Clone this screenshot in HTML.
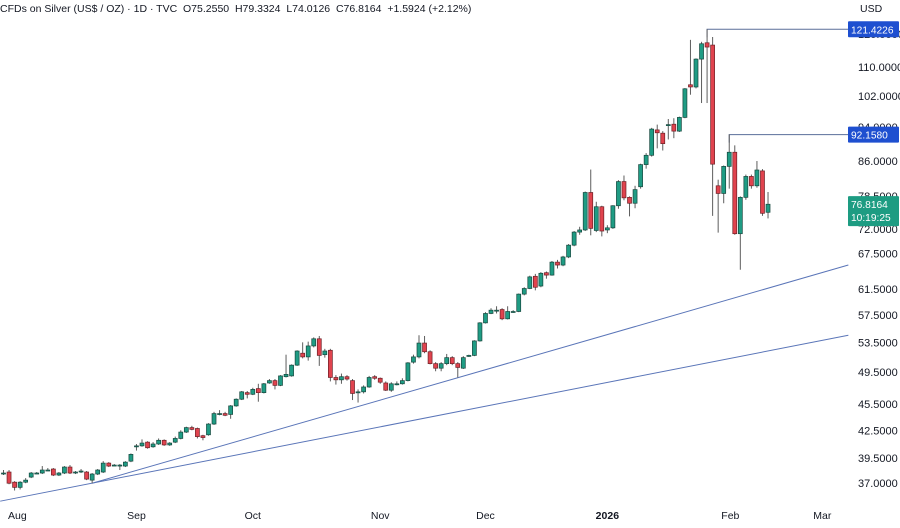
<!DOCTYPE html>
<html><head><meta charset="utf-8"><style>
html,body{margin:0;padding:0;background:#fff;}
body{width:900px;height:523px;overflow:hidden;font-family:"Liberation Sans",sans-serif;}
svg text{font-family:"Liberation Sans",sans-serif;}
</style></head><body>
<svg id="chart" width="900" height="523" viewBox="0 0 900 523" xmlns="http://www.w3.org/2000/svg">
<rect x="0" y="0" width="900" height="523" fill="#fff"/>
<text x="0" y="12" font-size="10.5" fill="#131722">CFDs on Silver (US$ / OZ) · 1D · TVC&#160;&#160;O75.2550&#160;&#160;H79.3324&#160;&#160;L74.0126&#160;&#160;C76.8164&#160;&#160;+1.5924 (+2.12%)</text>
<g id="lines"></g>
<g id="candles"></g>
<g id="yaxis"></g>
<g id="xaxis"></g>
<g id="tags"></g>
</svg>
<script>
const opens=[38.0,38.1,37.1,36.6,37.1,37.6,38.0,38.0,38.3,38.4,37.8,38.0,38.6,38.1,38.2,38.1,37.3,37.9,38.1,39.0,38.8,38.8,38.7,39.2,40.8,40.8,41.2,40.7,41.0,41.4,40.9,41.2,41.6,42.3,42.8,42.7,41.9,42.0,43.2,44.4,44.4,44.3,45.3,46.1,46.9,46.7,47.4,46.9,48.1,48.4,47.8,48.9,49.0,50.4,52.0,51.5,53.0,54.0,51.8,52.4,48.8,48.5,48.9,48.4,46.9,47.0,47.6,48.9,48.7,48.1,47.2,48.0,48.0,48.4,50.8,51.5,53.4,52.2,50.6,50.0,50.6,51.4,50.6,50.0,51.6,51.7,53.7,56.3,57.7,58.2,58.3,56.9,58.0,58.0,60.7,61.6,63.6,62.0,64.2,63.8,66.0,65.5,66.9,69.0,71.4,71.8,79.2,71.7,76.3,71.8,72.2,76.5,81.5,78.2,77.0,80.4,85.2,87.3,93.3,92.5,94.4,94.7,93.0,96.4,105.0,104.4,112.3,117.2,116.5,80.6,79.0,84.8,88.0,71.1,78.2,82.6,80.6,83.8,75.2];
const highs=[38.3,38.3,37.2,37.2,37.5,38.1,38.1,38.7,38.5,38.5,38.1,38.7,38.8,38.2,38.4,38.2,38.0,38.4,39.2,39.1,38.9,38.9,39.2,40.0,41.0,41.5,41.3,41.2,41.6,41.5,41.2,41.8,42.5,42.9,43.0,42.8,42.0,43.3,44.6,44.8,44.6,45.4,46.2,47.1,47.1,47.5,48.0,48.1,48.6,48.6,49.1,51.8,50.5,52.4,53.5,53.6,54.2,54.4,52.6,52.6,49.1,49.3,49.1,48.6,47.3,47.8,49.0,49.1,48.8,48.3,48.2,48.3,48.7,50.8,51.8,54.5,54.4,52.4,50.8,50.8,51.9,51.6,50.8,51.6,51.8,53.8,56.4,57.9,58.5,58.8,58.5,58.8,58.2,60.8,61.8,63.7,64.0,64.3,64.4,66.2,66.4,67.1,69.2,71.6,72.4,79.4,84.1,77.3,76.5,72.7,76.6,81.8,82.8,78.4,80.6,85.4,87.8,93.8,94.6,93.0,96.0,96.2,96.6,104.1,118.1,112.5,117.5,121.4,119.0,81.9,85.0,92.2,89.6,78.4,83.0,83.0,86.0,84.2,79.3];
const lows=[37.8,36.9,36.3,36.4,37.0,37.5,37.9,37.9,38.2,37.7,37.7,37.9,37.9,37.9,38.0,37.3,37.0,37.8,38.0,38.6,38.7,38.3,38.6,39.1,40.3,40.7,40.5,40.6,40.9,40.8,40.8,41.1,41.5,42.2,42.5,41.6,41.4,41.9,43.1,44.2,44.1,43.8,45.2,46.0,46.2,46.6,45.8,46.8,48.0,47.3,47.7,48.8,48.9,50.3,51.3,51.0,52.8,50.3,51.4,48.3,47.9,48.0,48.4,46.0,45.7,46.8,47.5,48.5,48.0,47.1,47.0,47.8,47.9,48.3,50.6,51.3,52.0,50.5,49.6,49.6,50.4,50.4,48.8,49.9,51.5,51.6,53.6,56.2,57.6,57.7,56.7,56.8,57.8,57.9,60.5,61.5,61.3,61.8,63.2,63.7,64.9,65.3,66.7,68.8,70.9,71.6,70.8,71.4,70.6,71.2,72.0,75.9,77.6,74.4,76.0,80.0,84.3,87.0,88.9,88.4,91.0,91.3,92.8,96.2,102.3,104.0,100.1,100.1,74.5,71.3,77.0,80.0,70.9,64.7,77.7,80.0,80.2,74.5,74.0];
const closes=[38.0,37.0,36.6,37.1,37.3,38.0,38.0,38.3,38.3,37.8,38.0,38.6,38.0,38.1,38.2,37.4,37.9,38.3,39.0,38.7,38.8,38.8,39.1,39.9,40.8,41.1,40.6,41.0,41.4,40.9,41.1,41.6,42.3,42.8,42.6,41.8,41.7,43.2,44.4,44.4,44.2,45.3,46.1,47.0,46.7,47.3,46.9,48.0,48.4,47.8,49.0,49.2,50.4,52.3,51.5,53.0,54.0,51.7,52.3,48.8,48.5,48.9,48.6,46.8,47.0,47.6,48.8,48.7,48.2,47.2,48.0,48.0,48.4,50.7,51.5,53.4,52.2,50.6,50.0,50.6,51.4,50.6,50.1,51.4,51.7,53.7,56.3,57.7,58.2,58.2,56.9,58.0,58.0,60.7,61.6,63.5,61.8,64.1,63.8,66.0,65.5,66.9,69.0,71.4,71.8,79.2,72.1,76.3,71.6,72.2,76.5,81.5,78.1,77.0,79.8,85.2,87.3,93.5,92.6,90.0,94.6,93.0,96.4,103.9,104.4,112.3,116.9,115.9,85.3,79.0,84.8,88.0,71.1,78.2,82.6,80.6,84.0,75.0,76.8];
const yTicks=[120,110,102,94,86,78.5,72,67.5,61.5,57.5,53.5,49.5,45.5,42.5,39.5,37];
const monthLabels=["Aug","Sep","Oct","Nov","Dec","2026","Feb","Mar"];
const monthIndex=[2.5,24,45,68,87,109,131.2,147.8];
const hLevels=[121.4226,92.1580];
const hLevelIdx=[127,131];
// trendlines: [startIndex, startPrice, endIndex, endPrice]
const trend1=[16,37.0,152.5,65.5];
const trend2=[-0.6,35.3,152.5,54.5];

const NS="http://www.w3.org/2000/svg";
const X0=3.5, DX=5.54;
function xS(i){return X0+i*DX;}
function yS(p){return 67+(Math.log(110)-Math.log(p))*382;}
function mk(tag,attrs,parent){const e=document.createElementNS(NS,tag);for(const k in attrs)e.setAttribute(k,attrs[k]);parent.appendChild(e);return e;}
const gL=document.getElementById('lines'),gC=document.getElementById('candles'),gY=document.getElementById('yaxis'),gX=document.getElementById('xaxis'),gT=document.getElementById('tags');

[trend1,trend2].forEach((t,k)=>{
  const l=mk('line',{x1:xS(t[0]),y1:yS(t[1]),x2:xS(t[2]),y2:yS(t[3]),stroke:'#5a75b8','stroke-width':1},gL);
  
  
});
hLevels.forEach((p,k)=>{
  const x=xS(hLevelIdx[k]);
  const pl=mk('polyline',{points:`${x},${yS(p)+8} ${x},${yS(p)} 848,${yS(p)}`,fill:'none',stroke:'#5a6f99','stroke-width':1},gL);
  
  
});

for(let i=0;i<closes.length;i++){
  const o=opens[i],c=closes[i],h=highs[i],l=lows[i];
  const up=c>=o; const x=xS(i);
  const g=mk('g',{},gC);
  
  
  mk('line',{x1:x,x2:x,y1:yS(h),y2:yS(l),stroke:'#5d5d5d','stroke-width':1},g);
  const yt=yS(Math.max(o,c)), yb=yS(Math.min(o,c));
  mk('rect',{x:x-2,y:yt,width:4,height:Math.max(1,yb-yt),fill:up?'#1f9c84':'#e0434e',stroke:up?'#17483e':'#6e2026','stroke-width':0.7},g);
}

yTicks.forEach(v=>{
  const t=mk('text',{x:858,y:yS(v)+4,'font-size':11,fill:'#131722'},gY);
  t.textContent=v.toFixed(4);
  
  
});
const usd=mk('text',{x:860,y:12,'font-size':10.5,fill:'#131722'},gY);
usd.textContent='USD';



monthLabels.forEach((m,k)=>{
  const t=mk('text',{x:xS(monthIndex[k]),y:519,'font-size':10.5,fill:'#131722','text-anchor':'middle','font-weight':m==='2026'?'bold':'normal'},gX);
  t.textContent=m;
  
  
});

function tag(p,label,color,name,h){
  const y=yS(p);
  const g=mk('g',{},gT);
  
  
  mk('rect',{x:848,y:y-8,width:51,height:h,fill:color,rx:1},g);
  label.forEach((s,j)=>{const t=mk('text',{x:851,y:y+4+j*13,'font-size':10.2,fill:'#fff'},g);t.textContent=s;});
}
tag(121.4226,['121.4226'],'#1e4fd0','high-price-tag',16);
tag(92.1580,['92.1580'],'#1e4fd0','level-price-tag',16);
tag(76.8164,['76.8164','10:19:25'],'#1d9c82','last-price-tag',30);
</script>
</body></html>
